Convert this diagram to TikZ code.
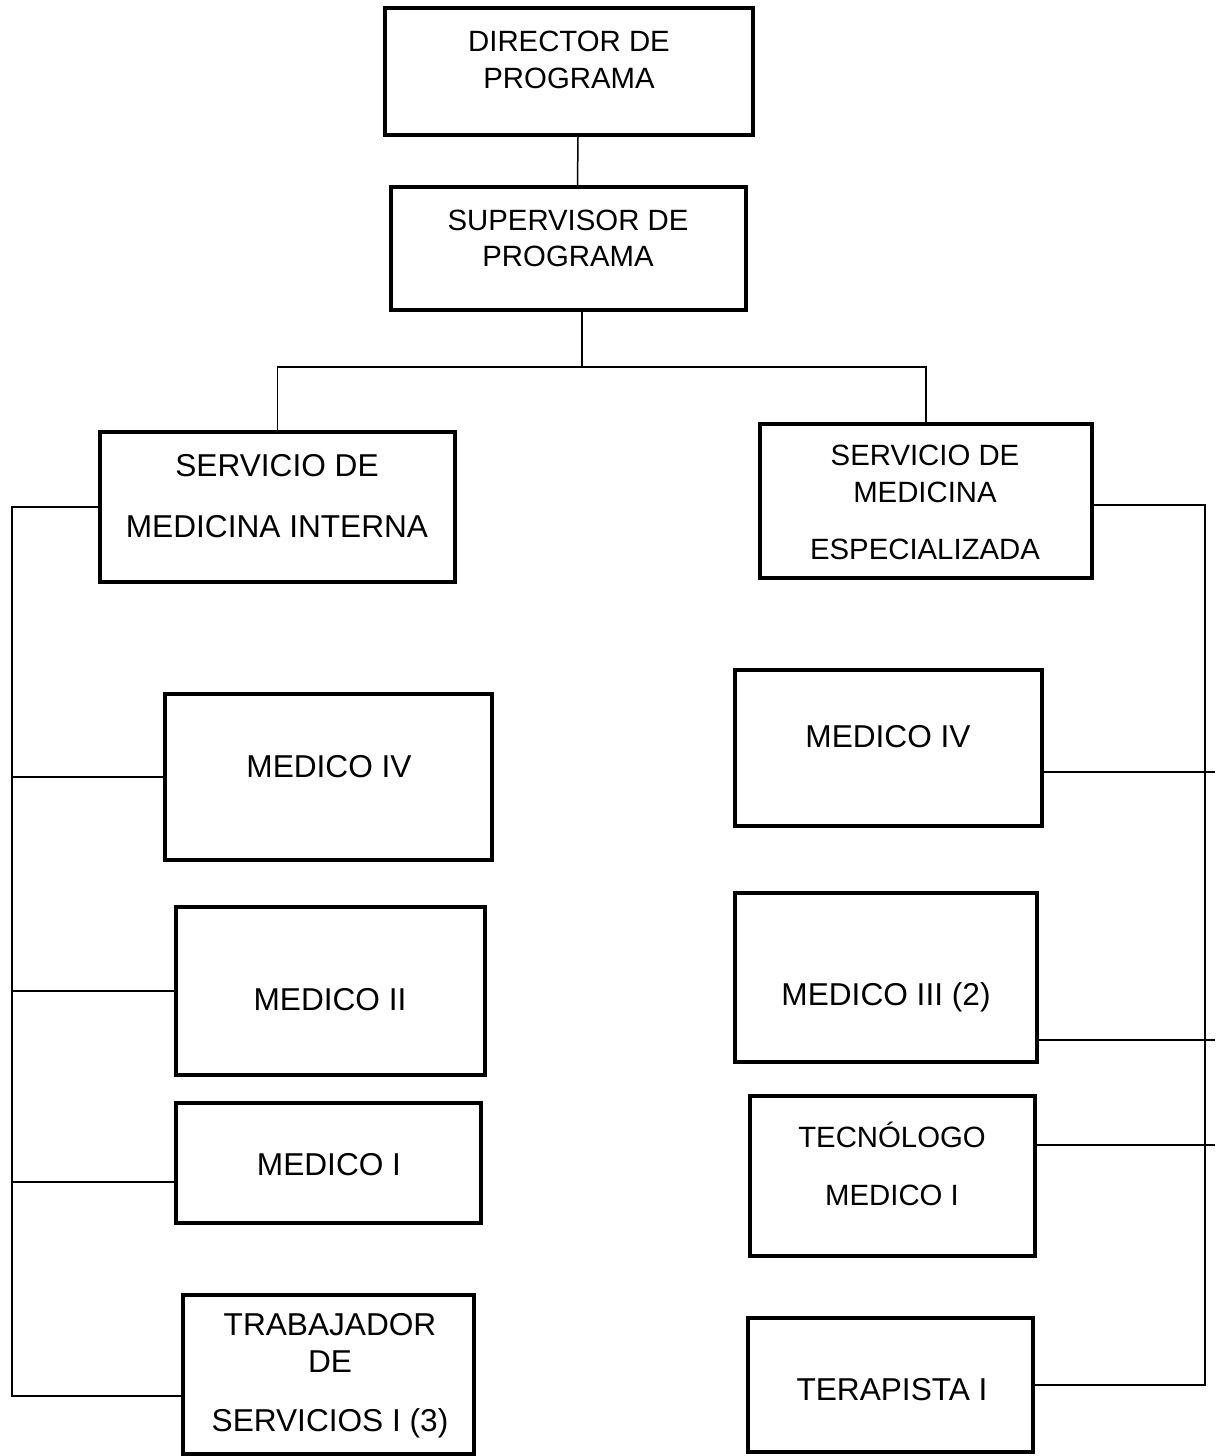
\documentclass[tikz,border=0pt]{standalone}
\usepackage{fontspec}
\setmainfont{Liberation Sans}
\usepackage{tikz}

\tikzset{
	caja/.style={draw, line width=2.2pt, inner sep=0pt},
	conn/.style={line width=0.85pt},
	txt/.style={align=center, inner sep=0pt, font=\fontsize{18}{21}\selectfont},
	txtsm/.style={align=center, inner sep=0pt, font=\fontsize{16.7}{20.8}\selectfont}
}

\begin{document}
\begin{tikzpicture}[x=0.02cm, y=-0.02cm]
		\useasboundingbox (0,0) rectangle (1215,1456);
		\node[caja, minimum width=7.36cm, minimum height=2.54cm] (dir) at (569,71.5) {};
		\node[caja, minimum width=7.1cm, minimum height=2.46cm] (sup) at (568.5,248.5) {};
		\node[caja, minimum width=7.1cm, minimum height=3.0cm] (smi) at (277.5,507) {};
		\node[caja, minimum width=6.64cm, minimum height=3.08cm] (sme) at (926,501) {};
		\node[caja, minimum width=6.54cm, minimum height=3.32cm] (li4) at (328.5,777) {};
		\node[caja, minimum width=6.18cm, minimum height=3.36cm] (li2) at (330.5,991) {};
		\node[caja, minimum width=6.1cm, minimum height=2.4cm] (li1) at (328.5,1163) {};
		\node[caja, minimum width=5.82cm, minimum height=3.18cm] (ltr) at (328.5,1374.5) {};
		\node[caja, minimum width=6.14cm, minimum height=3.12cm] (rm4) at (888.5,748) {};
		\node[caja, minimum width=6.04cm, minimum height=3.38cm] (rm3) at (886,977.5) {};
		\node[caja, minimum width=5.7cm, minimum height=3.2cm] (rtm) at (892.5,1176) {};
		\node[caja, minimum width=5.7cm, minimum height=2.68cm] (rte) at (890.5,1385) {};
		\node[txtsm] (dirt) at (569,60) {DIRECTOR DE\\PROGRAMA};
		\node[txtsm] (supt) at (568,238.5) {SUPERVISOR DE\\PROGRAMA};
		\node[txt] (smit) at (277,496) {SERVICIO DE\\[14pt]MEDICINA INTERNA};
		\node[txtsm] (smet) at (925,502.5) {SERVICIO DE\\MEDICINA\\[12pt]ESPECIALIZADA};
		\node[txt] (li4t) at (329,767) {MEDICO IV};
		\node[txt] (li2t) at (330,1000) {MEDICO II};
		\node[txt] (li1t) at (329,1165) {MEDICO I};
		\node[txt] (ltrt) at (330,1376) {TRABAJADOR\\DE\\[12.5pt]SERVICIOS I (3)};
		\node[txt] (rm4t) at (888,737) {MEDICO IV};
		\node[txt] (rm3t) at (886,997) {MEDICO III (2)};
		\node[txtsm] (rtmt) at (892,1164) {TECNÓLOGO\\[12pt]MEDICO I};
		\node[txt] (rtet) at (892,1390) {TERAPISTA I};
		\draw[conn] ([xshift=0.18cm]dir.south) -- ([xshift=0.18cm]sup.north);
		\draw[conn] ([xshift=0.27cm]sup.south) -- ++(0,55) coordinate (jn);
		\draw[conn] (smi.north) |- (jn) -| (sme.north);
		\coordinate (lb) at (12,0);
		\coordinate (rb) at (1205,0);
		\coordinate (redge) at (1215,0);
		\draw[conn] (smi.west) -| ([yshift=-0.43cm]ltr.west -| lb) -- ([yshift=-0.43cm]ltr.west);
		\draw[conn] (li4.west) -- (li4.west -| lb);
		\draw[conn] (li2.west) -- (li2.west -| lb);
		\draw[conn] ([yshift=-0.38cm]li1.west) -- ([yshift=-0.38cm]li1.west -| lb);
		\draw[conn] ([yshift=-0.08cm]sme.east) -| (rte.east -| rb) -- (rte.east);
		\draw[conn] ([yshift=-0.48cm]rm4.east) -- ([yshift=-0.48cm]rm4.east -| redge);
		\draw[conn] ([yshift=-1.25cm]rm3.east) -- ([yshift=-1.25cm]rm3.east -| redge);
		\draw[conn] ([yshift=0.62cm]rtm.east) -- ([yshift=0.62cm]rtm.east -| redge);
\end{tikzpicture}
\end{document}
